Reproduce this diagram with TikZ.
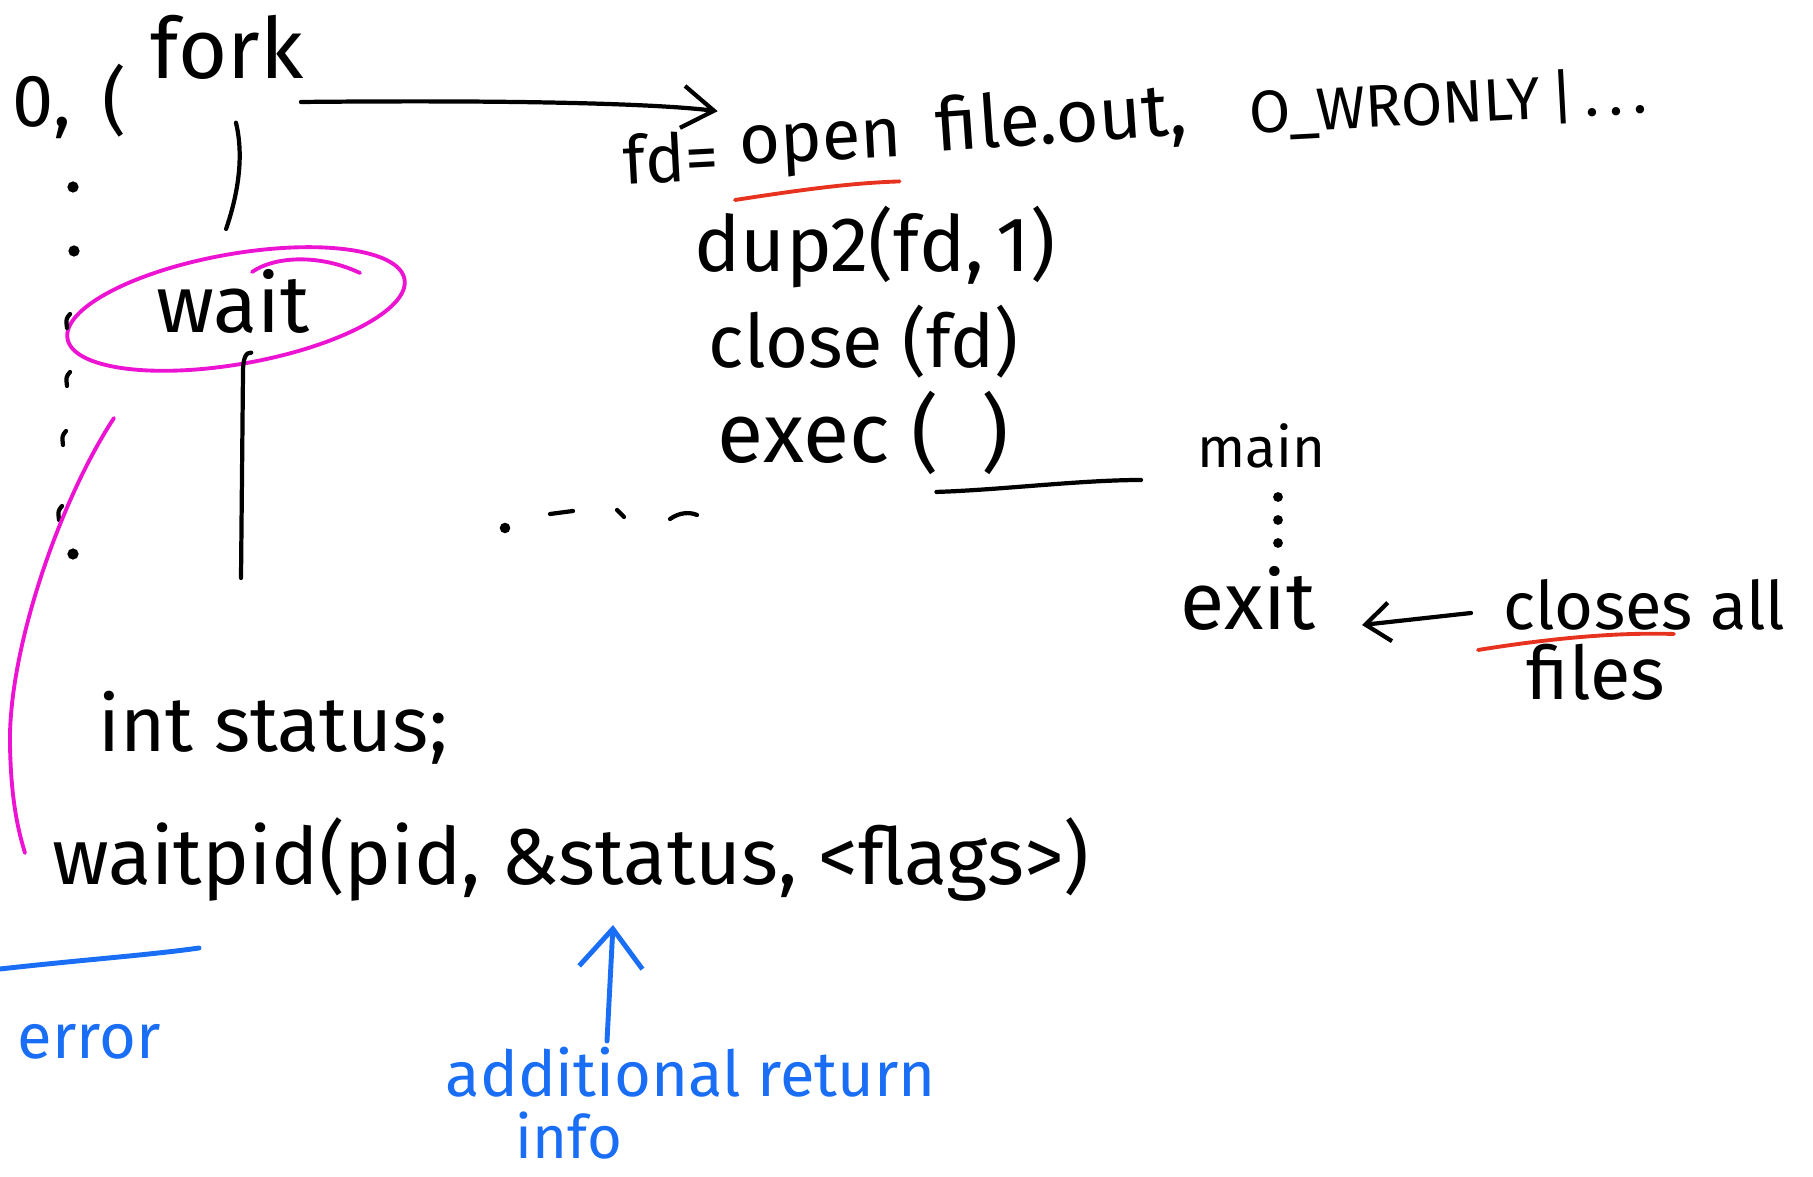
\documentclass[tikz,border=0pt]{standalone}
\usepackage{fontspec}
\setmainfont{Fira Sans}
\usepackage{tikz}
\usetikzlibrary{arrows.meta,positioning,calc,shapes.geometric}

\definecolor{inkpink}{RGB}{236,20,210}
\definecolor{inkred}{RGB}{230,50,30}
\definecolor{inkblue}{RGB}{25,110,245}

\begin{document}
\begin{tikzpicture}[
    x=0.01cm, y=-0.01cm,
    % --- STYLES ---
    hand/.style={font=\fontsize{#1}{#1}\selectfont, anchor=base west, inner sep=0pt},
    hand/.default=22,
    bluetext/.style={hand=#1, text=inkblue},
    bluetext/.default=18,
    ink/.style={line width=1.2pt, line cap=round, line join=round},
    underink/.style={ink, draw=inkred, line width=1.1pt},
    blueink/.style={ink, draw=inkblue, line width=1.4pt},
    pinkink/.style={ink, draw=inkpink, line width=1.1pt},
    ring/.style={ellipse, draw=inkpink, line width=1.1pt,
        minimum width=3.42cm, minimum height=1.1cm, inner sep=0pt},
    barb/.style={-{Straight Barb[length=9pt, width=12pt]}}
]
\useasboundingbox (0,0) rectangle (1813,1177);

% ===== 1. LEFT: fork / wait =====
\node[hand=21] (zero) at (12,127) {0,\, (};
\node[hand=24] (fork) at (150,79) {fork};
\node[hand=23] (wait) at (156,333) {wait};
\node[ring, rotate=10] (waitring) at (236,309) {};
\draw[pinkink] (252,272) .. controls (275,256) and (320,254) .. (360,273);

% dotted line on the left
\foreach \xx/\yy in {73/187, 74/251, 73/554}
    \fill (\xx,\yy) circle (1.6pt);
\foreach \xx/\yy in {70/314, 70/372, 66/431, 62/506}
    \draw[ink] (\xx,\yy) .. controls ({\xx-4},{\yy+5}) .. ({\xx-3},{\yy+14});

% ===== 2. RIGHT: redirection =====
\node[hand=19, rotate=3] (fd) at (624,185) {fd=};
\node[hand=20, rotate=3] (open) at (740,165) {open};
\node[hand=21, rotate=4] (fileout) at (937,152) {file.out,};
\node[hand=17, rotate=3] (wronly) at (1250,134) {O\_WRONLY\,|\,.\,.\,.};
\node[hand=22] (dup) at (694,272) {dup2(fd,\,1)};
\node[hand=21] (close) at (708,368) {close (fd)};
\node[hand=24] (exec) at (717,463) {exec (\,\,\,)};
\node[hand=16] (main) at (1197,468) {main};
\node[hand=23] (exit) at (1180,630) {exit};
\node[hand=19] (closes) at (1503,630) {closes all};
\node[hand=21] (files) at (1526,700) {files};

% ===== 3. BOTTOM: waitpid =====
\node[hand=22] (status) at (98,752) {int status;};
\node[hand=22.5] (waitpid) at (52,885) {waitpid(pid, \&status, <flags>)};
\node[bluetext=18] (error) at (17,1058) {error};
\node[bluetext=18] (addinfo) at (445,1096) {additional return};
\node[bluetext=17] (info) at (515,1158) {info};

% ===== 4. CONNECTIONS =====
\draw[ink, barb] ($(fork.base east)+(-3,23)$) .. controls (500,100) and (650,103) .. ($(fd.north east)+(0,-18)$);
\draw[ink] ($(fork.south)+(9,42)$) .. controls (245,160) and (236,200) .. ($(waitring.north)+(0,-24)$);
\coordinate (waitend) at (241,578);
\draw[ink] ($(wait.south)+(18,18)$) .. controls (246,352) and (243,358) .. (243,372) -- (waitend);

% exec ( ) -- main ... exit
\draw[ink] ($(exec.south east)+(-73,16)$) .. controls (1000,490) and (1080,480) .. ($(main.base west)+(-56,12)$);
\foreach \yy in {29,52,75}
    \fill ($(main.base west)+(81,\yy)$) circle (1.4pt);
\draw[ink, -{Straight Barb[length=7pt, width=11pt]}] ($(closes.base west)+(-32,-17)$) -- ($(exit.base east)+(46,-5)$);

% red underlines
\draw[underink] ($(open.base west)+(-5,35)$) .. controls (800,190) and (850,183) .. ($(open.base east)+(-4,25)$);
\draw[underink] ($(closes.base west)+(-25,20)$) .. controls (1540,640) and (1610,632) .. ($(closes.base west)+(171,4)$);

% middle dashes
\fill (505,528) circle (1.5pt);
\draw[ink] (550,514) -- (573,511);
\draw[ink] (617,510) -- (624,517);
\draw[ink] (670,519) .. controls (680,512) and (690,512) .. (697,515);

% pink bracket wait -> waitpid
\draw[pinkink] (114,418) .. controls (60,500) and (8,650) .. (10,745) .. controls (11,800) and (18,830) .. ($(waitpid.base west)+(-27,-32)$);

% blue notes
\draw[blueink] ($(error.base west)+(-17,-89)$) .. controls (80,960) and (150,955) .. ($(error.base west)+(182,-110)$);
\draw[blueink, -{Straight Barb[length=11pt, width=18pt]}] ($(addinfo.base west)+(162,-55)$) -- ($(waitpid.base west)+(561,40)$);

\end{tikzpicture}
\end{document}
